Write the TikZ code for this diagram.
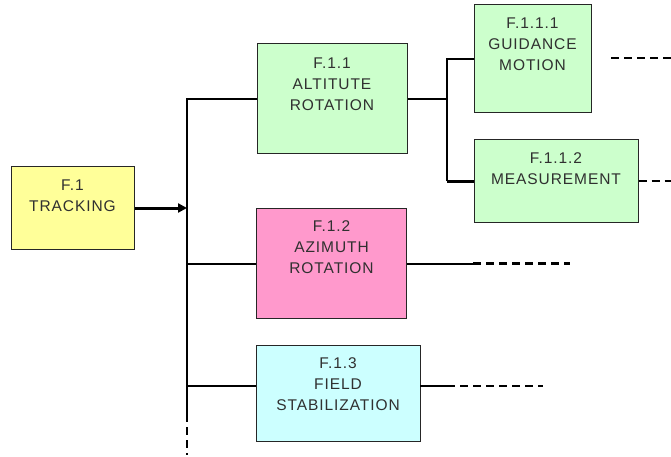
\documentclass[tikz,border=0pt]{standalone}
\usepackage{fontspec}
\setmainfont{Liberation Sans}[LetterSpace=6]
\usetikzlibrary{arrows.meta}
\definecolor{cyel}{HTML}{FFFF99}
\definecolor{cgrn}{HTML}{CCFFCC}
\definecolor{cpnk}{HTML}{FF99CC}
\definecolor{ccyn}{HTML}{CCFFFF}
\definecolor{ctxt}{HTML}{303030}
\tikzset{
  box/.style={draw=black!85, line width=1pt, rectangle, inner sep=0pt},
  lbl/.style={text=ctxt, align=center, inner sep=0pt, font=\fontsize{15.5}{21}\selectfont},
  conn/.style={line width=2pt, draw=black},
  thickconn/.style={line width=3pt, draw=black},
  cont/.style={line width=2.2pt, draw=black, dash pattern=on 8pt off 5pt},
  arr/.style={line width=3pt, draw=black, -{Triangle[length=9pt,width=9pt]}}
}
\begin{document}
\begin{tikzpicture}[x=1pt,y=-1pt]
\useasboundingbox (0,0) rectangle (671,457);
% boxes
\node[box, fill=cyel, minimum width=123pt, minimum height=82pt] (F1) at (72.5,208) {};
\node[box, fill=cgrn, minimum width=150pt, minimum height=110pt] (F11) at (332,99) {};
\node[box, fill=cgrn, minimum width=117pt, minimum height=108pt] (F111) at (532.5,59) {};
\node[box, fill=cgrn, minimum width=164pt, minimum height=82pt] (F112) at (556,181) {};
\node[box, fill=cpnk, minimum width=150pt, minimum height=110pt] (F12) at (331.5,263.5) {};
\node[box, fill=ccyn, minimum width=164pt, minimum height=96pt] (F13) at (338,393) {};
% labels
\node[lbl] (t1) at (72.5,196) {F.1\\TRACKING};
\node[lbl] (t11) at (332,84) {F.1.1\\ALTITUTE\\ROTATION};
\node[lbl] (t111) at (532.5,44) {F.1.1.1\\GUIDANCE\\MOTION};
\node[lbl] (t112) at (556,168.5) {F.1.1.2\\MEASUREMENT};
\node[lbl] (t12) at (331.5,247) {F.1.2\\AZIMUTH\\ROTATION};
\node[lbl] (t13) at (338,384) {F.1.3\\FIELD\\STABILIZATION};
% coordinates
\coordinate (bT) at (187,99);
\coordinate (bA) at (187,208);
\coordinate (b12) at (187,263.5);
\coordinate (b13) at (187,386);
\coordinate (bB) at (187,414);
\coordinate (bE) at (187,455);
\coordinate (j1) at (447,99);
\coordinate (e111a) at (611,58);
\coordinate (e111b) at (671,58);
\coordinate (e112) at (671,181);
\coordinate (e12a) at (473,263.5);
\coordinate (e12b) at (570,263.5);
\coordinate (e13r) at (420,386);
\coordinate (e13a) at (447,386);
\coordinate (e13b) at (543,386);
% connectors
\draw[conn] (F11.west) -- (bT) -- (bB);
\draw[cont] (bB) -- (bE);
\draw[arr] (F1.east) -- (bA);
\draw[conn] (b12) -- (F12.west);
\draw[conn] (b13) -- (b13 -| F13.west);
\draw[conn] (F11.east) -- (j1);
\draw[conn] (F111.west) -- (j1 |- F111.west) -- (j1 |- F112.west);
\draw[thickconn] (j1 |- F112.west) -- (F112.west);
\draw[cont] (e111a) -- (e111b);
\draw[cont] (F112.east) -- (e112);
\draw[conn] (F12.east) -- (e12a);
\draw[cont] (e12a) -- (e12b);
\draw[conn] (e13r) -- (e13a);
\draw[cont] (e13a) -- (e13b);
\end{tikzpicture}
\end{document}
